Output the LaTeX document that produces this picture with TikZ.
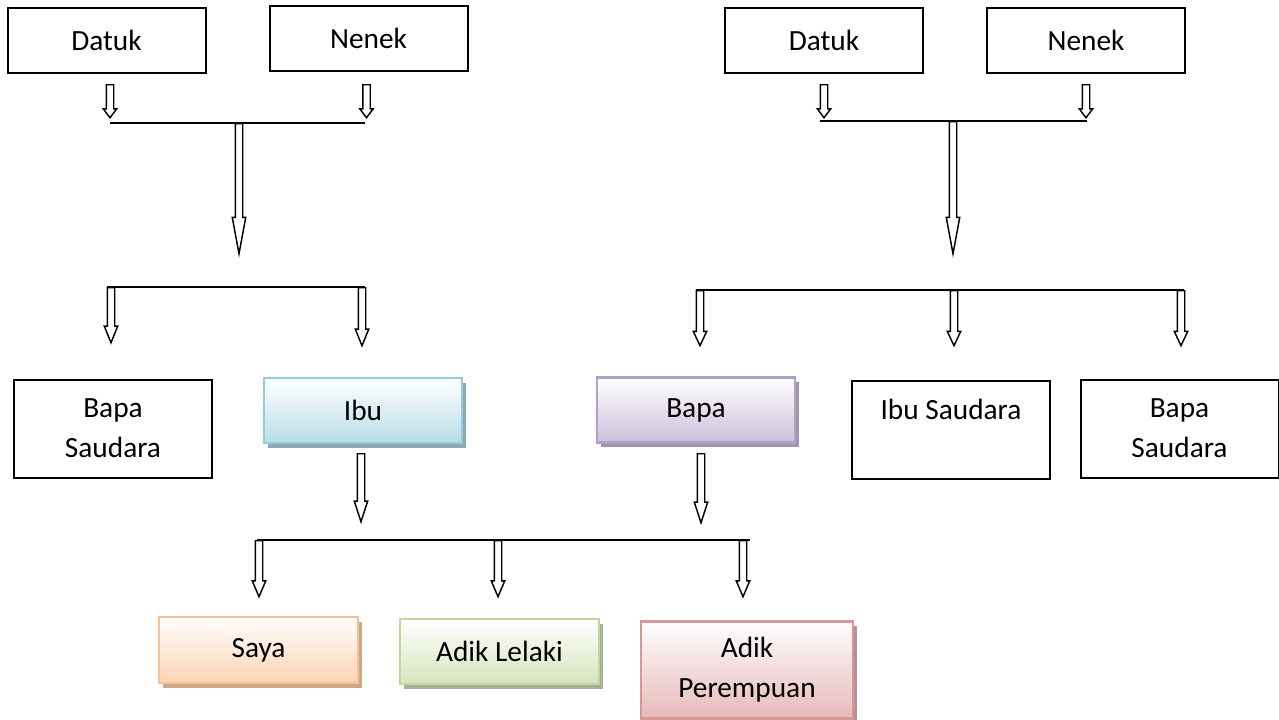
\documentclass[tikz,border=0pt]{standalone}
\usepackage{fontspec}
\setmainfont{Carlito}
\usetikzlibrary{shapes.arrows,shadows}
\definecolor{ibuB}{RGB}{146,205,220}
\definecolor{ibuF}{RGB}{183,221,232}
\definecolor{ibuS}{RGB}{142,169,176}
\definecolor{bapaB}{RGB}{178,161,199}
\definecolor{bapaF}{RGB}{204,192,218}
\definecolor{bapaS}{RGB}{160,152,170}
\definecolor{sayaB}{RGB}{250,192,144}
\definecolor{sayaF}{RGB}{251,212,180}
\definecolor{sayaS}{RGB}{204,168,138}
\definecolor{lelB}{RGB}{195,214,155}
\definecolor{lelF}{RGB}{215,228,189}
\definecolor{lelS}{RGB}{168,176,150}
\definecolor{perB}{RGB}{217,150,148}
\definecolor{perF}{RGB}{230,185,184}
\definecolor{perS}{RGB}{180,145,146}
\tikzset{
  every node/.style={font=\fontsize{22}{30}\selectfont, text=black},
  plainbox/.style={draw=black, line width=1.5pt, rectangle, inner sep=0pt, align=center,
    minimum width=148.5pt, minimum height=48.75pt},
  tallbox/.style={plainbox, minimum height=73.5pt},
  colbox/.style n args={3}{rectangle, inner sep=0pt, align=center, draw=#1, line width=2.2pt,
    top color=white, bottom color=#2, minimum width=148.5pt, minimum height=48.75pt,
    general shadow={fill=#3, shadow xshift=3pt, shadow yshift=-3.5pt}},
  barrow/.style 2 args={single arrow, draw=black, fill=white, line width=1.1pt,
    shape border rotate=270, inner sep=2.25pt, single arrow head extend=2.25pt,
    minimum width=9pt, minimum height=#1*0.75pt, single arrow tip angle=#2, anchor=tail},
  hline/.style={draw=black, line width=1.5pt}
}
\begin{document}
\begin{tikzpicture}[x=0.75pt,y=-0.75pt]
\useasboundingbox (0,0) rectangle (1279,719);
% ---------- left grandparents ----------
\node[plainbox] (ldatuk) at (106.5,40) {Datuk};
\node[plainbox] (lnenek) at (368.5,38) {Nenek};
\node[barrow={33}{74}] (la1) at (110,84) {};
\node[barrow={33}{74}] (la2) at (366.5,84) {};
\coordinate (l1a) at (110,123);
\coordinate (l1b) at (365,123);
\draw[hline] (l1a) -- (l1b);
\node[barrow={130}{21}] (lb) at (239,123) {};
% ---------- right grandparents ----------
\node[plainbox] (rdatuk) at (824,40.5) {Datuk};
\node[plainbox] (rnenek) at (1086,40.5) {Nenek};
\node[barrow={33}{74}] (ra1) at (824,84) {};
\node[barrow={33}{74}] (ra2) at (1086,84) {};
\coordinate (r1a) at (820,121);
\coordinate (r1b) at (1087,121);
\draw[hline] (r1a) -- (r1b);
\node[barrow={132}{21}] (rb) at (953,121) {};
% ---------- second level left ----------
\coordinate (l2a) at (107,287);
\coordinate (l2b) at (365,287);
\draw[hline] (l2a) -- (l2b);
\node[barrow={55}{44}] (lc1) at (111,287) {};
\node[barrow={58}{44}] (lc2) at (362,287) {};
\node[tallbox] (lbs) at (113,428.5) {Bapa\\Saudara};
\node[colbox={ibuB}{ibuF}{ibuS}] (ibu) at (363,410.5) {Ibu};
% ---------- second level right ----------
\coordinate (r2a) at (696,290);
\coordinate (r2b) at (1184,290);
\draw[hline] (r2a) -- (r2b);
\node[barrow={55}{50}] (rc1) at (700,290) {};
\node[barrow={55}{50}] (rc2) at (954,290) {};
\node[barrow={55}{50}] (rc3) at (1181,290) {};
\node[colbox={bapaB}{bapaF}{bapaS}] (bapa) at (696,410) {Bapa};
\node[tallbox] (ribs) at (951,429.5) {Ibu Saudara\\\mbox{}};
\node[tallbox] (rbs) at (1179.5,428.5) {Bapa\\Saudara};
% ---------- children ----------
\node[barrow={68}{36}] (d1) at (361,453) {};
\node[barrow={69}{36}] (d2) at (701,453) {};
\coordinate (b3a) at (257,540);
\coordinate (b3b) at (750,540);
\draw[hline] (b3a) -- (b3b);
\node[barrow={56}{46}] (e1) at (259,540) {};
\node[barrow={56}{46}] (e2) at (498,540) {};
\node[barrow={56}{46}] (e3) at (743,540) {};
\node[colbox={sayaB}{sayaF}{sayaS}, minimum width=149.25pt, minimum height=49.5pt] (saya) at (258.5,650) {Saya};
\node[colbox={lelB}{lelF}{lelS}, minimum width=149.25pt] (lelaki) at (499.5,651.5) {Adik Lelaki};
\node[colbox={perB}{perF}{perS}, minimum width=159pt, minimum height=72.75pt] (perempuan) at (747,670) {Adik\\Perempuan};
\end{tikzpicture}
\end{document}
